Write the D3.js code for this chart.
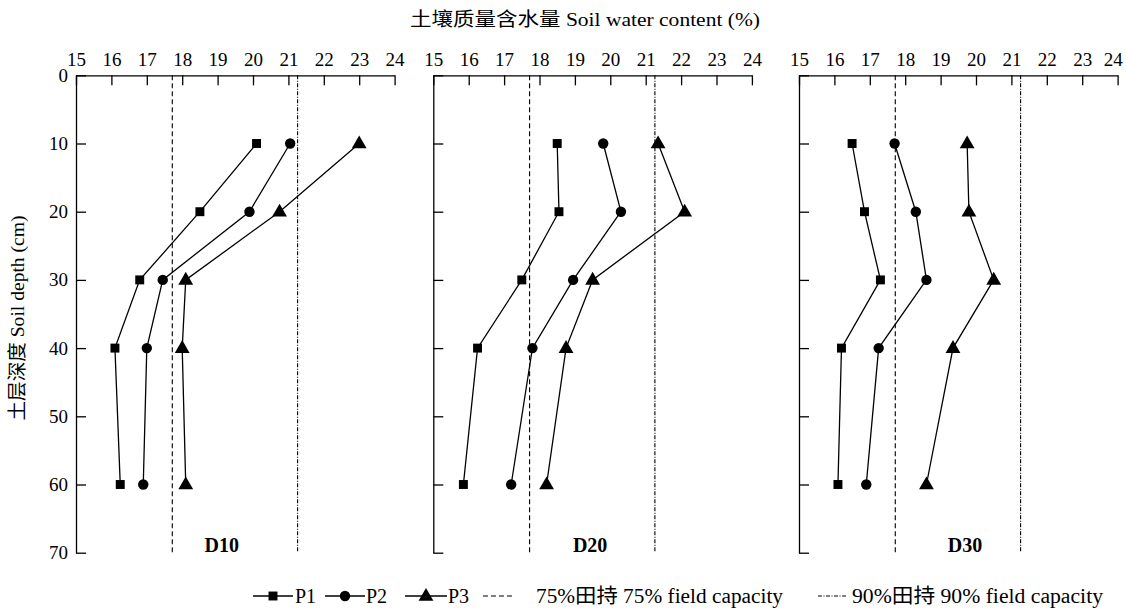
<!DOCTYPE html>
<html lang="zh">
<head>
<meta charset="UTF-8">
<title>Soil water content profiles</title>
<style>
  body { margin: 0; padding: 0; background: #fff; }
  svg { display: block; font-family: "Liberation Serif", "Noto Sans CJK SC", serif; }
  .axis path, .axis line { stroke: #000; stroke-width: 1.3; }
  .axis text { font-size: 19px; fill: #000; font-family: "Liberation Serif", serif; }
</style>
<script src="https://d3js.org/d3.v7.min.js"></script>
</head>
<body>
<svg id="chart" width="1126" height="609"></svg>
<script>
// depths (cm) and water content (%)
const depths = [10, 20, 30, 40, 60];
const panels = ["D10", "D20", "D30"];
const seriesNames = ["P1", "P2", "P3"];
const d10 = [
  [20.1, 18.5, 16.8, 16.1, 16.25],
  [21.05, 19.9, 17.45, 17.0, 16.9],
  [23.0, 20.75, 18.1, 18.0, 18.1]
];
const d20 = [
  [18.5, 18.55, 17.5, 16.25, 15.85],
  [19.8, 20.3, 18.95, 17.8, 17.2],
  [21.35, 22.1, 19.5, 18.75, 18.2]
];
const d30 = [
  [16.5, 16.85, 17.3, 16.2, 16.1],
  [17.7, 18.3, 18.6, 17.25, 16.9],
  [19.75, 19.8, 20.5, 19.35, 18.6]
];
const fc75 = 17.72;
const fc90 = 21.26;
const xTicks = [15, 16, 17, 18, 19, 20, 21, 22, 23, 24];
const yTicks = [0, 10, 20, 30, 40, 50, 60, 70];

const panelData = [d10, d20, d30];
const panelLeft = [76, 433.3, 799];
const labelAt = [19.12, 19.43, 19.69];   // where the panel name sits, in x units
const panelW = 318.6;
const yTop = 75.3, yBottom = 552.7;

const svg = d3.select("#chart");
const y = d3.scaleLinear().domain([0, 70]).range([yTop, yBottom]);

const symbols = [d3.symbolSquare, d3.symbolCircle, d3.symbolTriangle];
const symSize = [80, 85, 95];
function marker(g, i, cx, cy) {
  g.append("path")
    .attr("d", d3.symbol().type(symbols[i]).size(symSize[i])())
    .attr("transform", `translate(${cx},${cy + (i === 2 ? 0.5 : 0)})`)
    .attr("fill", "#000");
}

panels.forEach((name, p) => {
  const x = d3.scaleLinear().domain([15, 24]).range([panelLeft[p], panelLeft[p] + panelW]);
  const g = svg.append("g");

  // field capacity reference lines
  g.append("line")
    .attr("x1", x(fc75)).attr("x2", x(fc75)).attr("y1", yTop).attr("y2", yBottom)
    .attr("stroke", "#000").attr("stroke-width", 1.1).attr("stroke-dasharray", "5,3");
  g.append("line")
    .attr("x1", x(fc90)).attr("x2", x(fc90)).attr("y1", yTop).attr("y2", yBottom)
    .attr("stroke", "#000").attr("stroke-width", 1.1).attr("stroke-dasharray", "4,1.5,1,1.5");

  // axes
  const xa = g.append("g").attr("class", "axis")
    .attr("transform", `translate(0,${yTop})`)
    .call(d3.axisTop(x).tickValues(xTicks).tickSizeInner(-10).tickSizeOuter(0).tickPadding(9));
  if (p === 2) xa.selectAll("text").filter(d => d === 24).attr("dx", "-0.25em");
  g.append("g").attr("class", "axis")
    .attr("transform", `translate(${panelLeft[p]},0)`)
    .call(d3.axisLeft(y).tickValues(yTicks).tickSizeInner(-10).tickSizeOuter(0).tickPadding(8)
      .tickFormat(p === 0 ? d3.format("d") : () => ""));

  // series
  const line = d3.line().x(d => x(d[0])).y(d => y(d[1]));
  panelData[p].forEach((vals, s) => {
    const pts = vals.map((v, k) => [v, depths[k]]);
    g.append("path").datum(pts)
      .attr("d", line).attr("fill", "none").attr("stroke", "#000").attr("stroke-width", 1.3);
    pts.forEach(d => marker(g, s, x(d[0]), y(d[1])));
  });

  g.append("text")
    .attr("x", x(labelAt[p])).attr("y", 552)
    .attr("text-anchor", "middle")
    .attr("font-size", 20).attr("font-weight", "bold")
    .text(name);
});

// titles
svg.append("text")
  .attr("x", 585).attr("y", 26)
  .attr("text-anchor", "middle").attr("font-size", 19)
  .attr("textLength", 350).attr("lengthAdjust", "spacingAndGlyphs")
  .text("土壤质量含水量 Soil water content (%)");
svg.append("text")
  .attr("transform", "translate(24,318) rotate(-90)")
  .attr("text-anchor", "middle").attr("font-size", 19)
  .attr("textLength", 205).attr("lengthAdjust", "spacingAndGlyphs")
  .text("土层深度 Soil depth (cm)");

// legend
const ly = 596;
const legendSeries = [
  { x0: 253, x1: 293, tx: 295 },
  { x0: 325, x1: 365, tx: 366 },
  { x0: 405, x1: 447, tx: 448 }
];
const leg = svg.append("g").attr("font-size", 20);
legendSeries.forEach((d, i) => {
  leg.append("line").attr("x1", d.x0).attr("x2", d.x1).attr("y1", ly).attr("y2", ly)
    .attr("stroke", "#000").attr("stroke-width", 1.3);
  marker(leg, i, (d.x0 + d.x1) / 2, ly);
  leg.append("text").attr("x", d.tx).attr("y", ly + 7).text(seriesNames[i]);
});
leg.append("line").attr("x1", 483).attr("x2", 514).attr("y1", ly).attr("y2", ly)
  .attr("stroke", "#000").attr("stroke-width", 1.1).attr("stroke-dasharray", "5,3");
leg.append("text").attr("x", 536).attr("y", ly + 7)
  .attr("textLength", 247).attr("lengthAdjust", "spacingAndGlyphs")
  .text("75%田持 75% field capacity");
leg.append("line").attr("x1", 818).attr("x2", 847).attr("y1", ly).attr("y2", ly)
  .attr("stroke", "#000").attr("stroke-width", 1).attr("stroke-dasharray", "4,1.5,1,1.5");
leg.append("text").attr("x", 852).attr("y", ly + 7)
  .attr("textLength", 251).attr("lengthAdjust", "spacingAndGlyphs")
  .text("90%田持 90% field capacity");
</script>
</body>
</html>
